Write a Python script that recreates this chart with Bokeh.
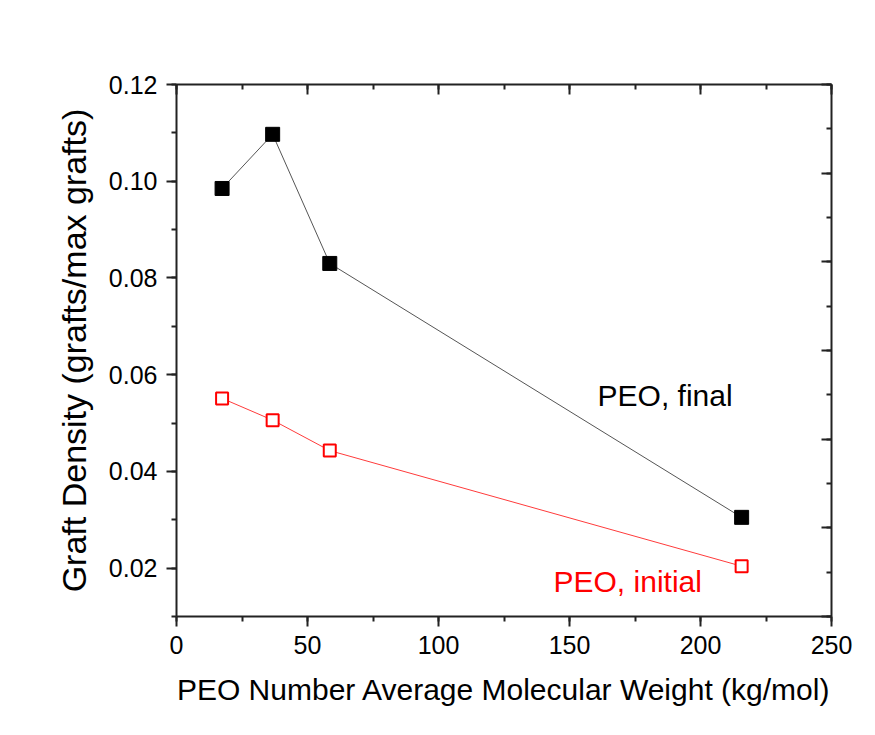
from bokeh.plotting import figure
from bokeh.models import (Range1d, LinearAxis, SingleIntervalTicker, Label,
                          NumeralTickFormatter, CustomJSTickFormatter)
from bokeh.embed import file_html
from bokeh.resources import INLINE

# Data
mw = [17.4, 36.7, 58.5, 215.7]
final_density = [0.0985, 0.1097, 0.0830, 0.0305]
initial_density = [0.0551, 0.0506, 0.0443, 0.0204]

x_title = "PEO Number Average Molecular Weight (kg/mol)"
y_title = "Graft Density (grafts/max grafts)"
label_final = "PEO, final"
label_initial = "PEO, initial"

FONT = "Liberation Sans"

p = figure(width=875, height=735, output_backend="svg", toolbar_location=None,
           x_range=Range1d(0, 250), y_range=Range1d(0.01, 0.12),
           min_border_left=176, min_border_right=44, min_border_top=84, min_border_bottom=119)
p.background_fill_color = "white"
p.border_fill_color = "white"
p.outline_line_color = None
p.xgrid.visible = False
p.ygrid.visible = False
p.extra_y_ranges = {"right": Range1d(0, 0.12)}

AXIS_COLOR = "#222222"

def style_axis(ax, inward, show_labels):
    ax.axis_line_color = AXIS_COLOR
    ax.axis_line_width = 2
    ax.major_tick_line_color = AXIS_COLOR
    ax.minor_tick_line_color = AXIS_COLOR
    ax.major_tick_line_width = 2
    ax.minor_tick_line_width = 2
    if inward:
        ax.major_tick_in = 10
        ax.major_tick_out = 0
        ax.minor_tick_in = 5
        ax.minor_tick_out = 0
    else:
        ax.major_tick_in = 0
        ax.major_tick_out = 10
        ax.minor_tick_in = 0
        ax.minor_tick_out = 5
    ax.major_label_text_font = FONT
    ax.major_label_text_color = "black"
    ax.major_label_text_font_size = "25px"
    if not show_labels:
        ax.formatter = CustomJSTickFormatter(code="return '';")
        ax.major_label_standoff = 0

# bottom x axis
xa = p.xaxis[0]
xa.ticker = SingleIntervalTicker(interval=50, num_minor_ticks=2)
style_axis(xa, False, True)
xa.major_label_standoff = 9
xa.axis_label = x_title
xa.axis_label_text_font = FONT
xa.axis_label_text_font_size = "30px"
xa.axis_label_text_font_style = "normal"
xa.axis_label_text_color = "black"
xa.axis_label_standoff = 16

# left y axis
ya = p.yaxis[0]
ya.ticker = SingleIntervalTicker(interval=0.02, num_minor_ticks=2)
ya.formatter = NumeralTickFormatter(format="0.00")
style_axis(ya, False, True)
ya.major_label_standoff = 9
ya.axis_label = y_title
ya.axis_label_text_font = FONT
ya.axis_label_text_font_size = "34px"
ya.axis_label_text_font_style = "normal"
ya.axis_label_text_color = "black"
ya.axis_label_standoff = 13

# top axis (mirror, ticks inward, no labels)
top = LinearAxis(ticker=SingleIntervalTicker(interval=50, num_minor_ticks=2))
style_axis(top, True, False)
p.add_layout(top, "above")

# right axis (0 - 0.12 scale, ticks inward, no labels)
right = LinearAxis(y_range_name="right", ticker=SingleIntervalTicker(interval=0.02, num_minor_ticks=2))
style_axis(right, True, False)
p.add_layout(right, "right")

# series
p.line(mw, final_density, line_color="#555555", line_width=1)
p.scatter(mw, final_density, marker="square", size=14, fill_color="black", line_color="black")

p.line(mw, initial_density, line_color="#ff3b3b", line_width=1)
p.scatter(mw, initial_density, marker="square", size=12, fill_color="white", line_color="#ff0000", line_width=2)

p.add_layout(Label(x=160.7, y=0.0557, text=label_final, text_font=FONT, text_font_size="30px",
                   text_color="black", text_baseline="alphabetic"))
p.add_layout(Label(x=143.9, y=0.0172, text=label_initial, text_font=FONT, text_font_size="30px",
                   text_color="#ff0000", text_baseline="alphabetic"))

open("out.html", "w").write(file_html(p, INLINE))
